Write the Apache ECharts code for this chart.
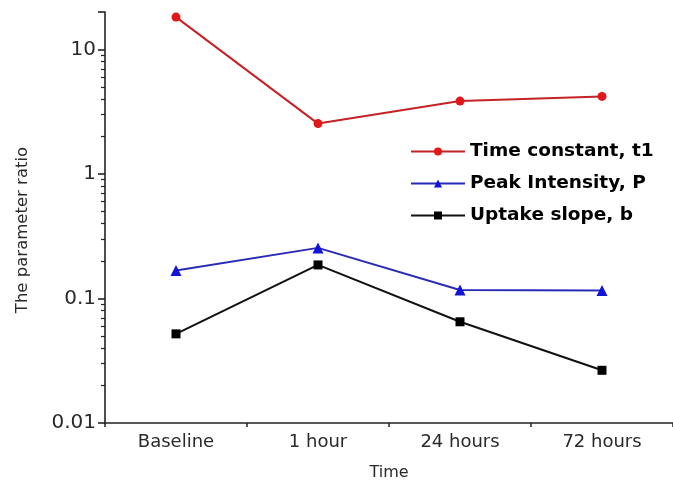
<!DOCTYPE html>
<html>
<head>
<meta charset="utf-8">
<script src="https://cdn.jsdelivr.net/npm/echarts@6/dist/echarts.min.js"></script>
<style>
html,body{margin:0;padding:0;background:#fff;}
#chart{width:673px;height:489px;}
</style>
</head>
<body>
<div id="chart"></div>
<script>
const categories = ['Baseline', '1 hour', '24 hours', '72 hours'];
const timeConstant = [18.2, 2.54, 3.85, 4.2];
const peakIntensity = [0.168, 0.255, 0.117, 0.116];
const uptakeSlope = [0.052, 0.186, 0.065, 0.0265];
const seriesNames = ['Time constant, t1', 'Peak Intensity, P', 'Uptake slope, b'];
const yTickValues = [0.01, 0.1, 1, 10];
const yTickLabels = ['0.01', '0.1', '1', '10'];
const yMinorTicks = [0.02,0.03,0.04,0.05,0.06,0.07,0.08,0.09,0.2,0.3,0.4,0.5,0.6,0.7,0.8,0.9,2,3,4,5,6,7,8,9];
const yMin = 0.01, yMax = 20;

const chart = echarts.init(document.getElementById('chart'), null, {renderer: 'canvas'});
const axisColor = '#222';
const labelFont = 'DejaVu Sans';
const textColor = '#2a2a2a';
chart.setOption({
  animation: false,
  backgroundColor: '#fff',
  grid: {left: 105, right: 0, top: 12, bottom: 66, containLabel: false},
  legend: {
    orient: 'vertical', left: 405, top: 137,
    itemWidth: 54, itemHeight: 10, itemGap: 13,
    textStyle: {fontFamily: 'DejaVu Sans', fontWeight: 'bold', fontSize: 18.5, color: '#000'},
    data: seriesNames
  },
  xAxis: [{
    type: 'category', data: categories, position: 'bottom',
    axisLine: {lineStyle: {color: axisColor, width: 1.6}},
    axisTick: {alignWithLabel: true, length: 7, lineStyle: {color: axisColor, width: 1.6}},
    axisLabel: {fontFamily: labelFont, fontSize: 18, color: textColor, margin: 10},
    name: 'Time', nameLocation: 'middle', nameGap: 42,
    nameTextStyle: {fontFamily: labelFont, fontSize: 16, color: textColor}
  }, {
    type: 'value', min: 0, max: categories.length, interval: 1, position: 'bottom',
    axisLine: {show: false},
    axisTick: {show: true, length: 4, lineStyle: {color: axisColor, width: 1.5}},
    axisLabel: {show: false}, splitLine: {show: false}
  }],
  yAxis: [{
    type: 'log', logBase: 10, min: yMin, max: yMax, position: 'left',
    axisLine: {show: true, lineStyle: {color: axisColor, width: 1.6}},
    axisTick: {show: true, length: 7, customValues: yTickValues.concat([yMax]), lineStyle: {color: axisColor, width: 1.6}},
    axisLabel: {fontFamily: labelFont, fontSize: 20, color: textColor, margin: 9,
      customValues: yTickValues,
      formatter: function (v) {
        const i = yTickValues.findIndex(t => Math.abs(Math.log10(t) - Math.log10(v)) < 1e-6);
        return i >= 0 ? yTickLabels[i] : '';
      }},
    splitLine: {show: false},
    name: 'The parameter ratio', nameLocation: 'middle', nameGap: 74, nameRotate: 90,
    nameTextStyle: {fontFamily: labelFont, fontSize: 16.5, color: textColor, padding: [0, 25, 0, 0]}
  }, {
    type: 'log', logBase: 10, min: yMin, max: yMax, position: 'left',
    axisLine: {show: false},
    axisTick: {show: true, length: 4, customValues: yMinorTicks, lineStyle: {color: axisColor, width: 1.2}},
    axisLabel: {show: false}, splitLine: {show: false}
  }],
  series: [{
    name: seriesNames[0], type: 'line', data: timeConstant,
    symbol: 'circle', symbolSize: 9,
    lineStyle: {color: '#c42226', width: 2},
    itemStyle: {color: '#e01818'}
  }, {
    name: seriesNames[1], type: 'line', data: peakIntensity,
    symbol: 'triangle', symbolSize: 11,
    lineStyle: {color: '#2a2ab8', width: 2},
    itemStyle: {color: '#1414d8'}
  }, {
    name: seriesNames[2], type: 'line', data: uptakeSlope,
    symbol: 'rect', symbolSize: 9,
    lineStyle: {color: '#111', width: 2},
    itemStyle: {color: '#000'}
  }]
});
</script>
</body>
</html>
